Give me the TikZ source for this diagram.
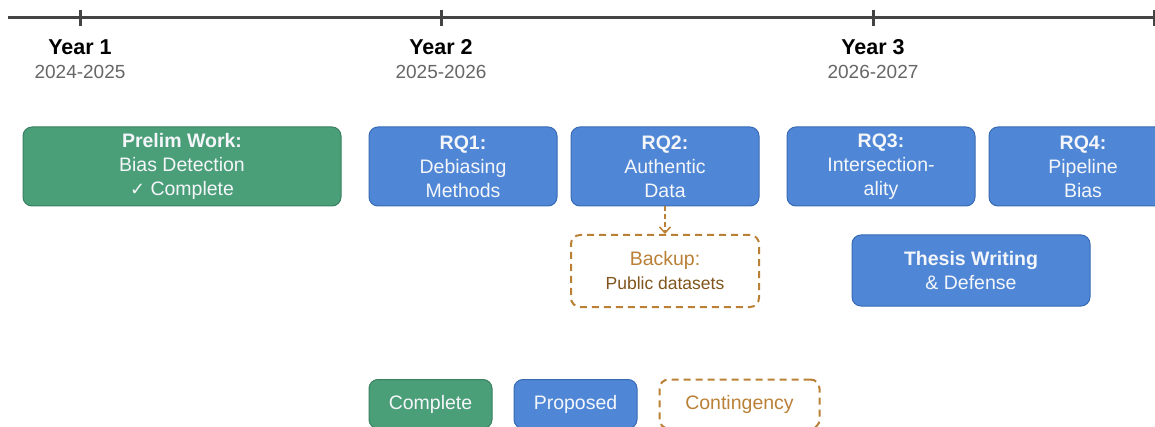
\documentclass[tikz,border=0pt]{standalone}
\usepackage{fontspec}
\setmainfont{Liberation Sans}
\newfontfamily\simbolo{DejaVu Sans}
\usepackage{xcolor}
\usepackage{tikz}
\usetikzlibrary{arrows.meta,positioning}
\definecolor{verdecaixa}{RGB}{74,158,120}
\definecolor{verdeborda}{RGB}{58,128,96}
\definecolor{azulcaixa}{RGB}{79,135,214}
\definecolor{azulborda}{RGB}{56,106,180}
\definecolor{marrom}{RGB}{186,128,54}
\definecolor{marromescuro}{RGB}{128,84,28}
\definecolor{cinzalinha}{RGB}{68,68,68}
\definecolor{cinzatexto}{RGB}{102,102,102}
\definecolor{textoclaro}{RGB}{244,246,250}
\tikzset{
  caixa/.style={rectangle,rounded corners=9pt,line width=1pt,align=center,
    inner sep=0pt,font=\fontsize{19.5}{24}\selectfont},
  feito/.style={caixa,draw=verdeborda,fill=verdecaixa,text=textoclaro},
  proposto/.style={caixa,draw=azulborda,fill=azulcaixa,text=textoclaro},
  reserva/.style={caixa,draw=marrom,line width=2pt,dash pattern=on 7pt off 5pt,
    text=marrom},
  ano/.style={anchor=base,font=\bfseries\fontsize{21.5}{24}\selectfont},
  periodo/.style={anchor=base,text=cinzatexto,font=\fontsize{19}{22}\selectfont},
  marca/.style={line width=3pt,cinzalinha},
  seta/.style={-{Straight Barb[length=6pt,width=11pt]},line width=1.5pt,marrom,
    dash pattern=on 5pt off 3pt}
}

\begin{document}
\begin{tikzpicture}[x=1pt,y=-1pt]
\useasboundingbox (0,0) rectangle (1155,427);
% linha do tempo
\coordinate (ini) at (8,18);
\coordinate (fim) at (1160,18);
\draw[marca] (ini) -- (fim);
\draw[marca] (1154,10) -- (1154,26);
\foreach \x/\n/\p in {80/1/2024-2025,441/2/2025-2026,873/3/2026-2027} {
  \draw[marca] (\x,10) -- (\x,26);
  \node[ano] (ano\n) at (\x,55) {Year \n};
  \node[periodo] (per\n) at (\x,79) {\p};
}
% fases
\node[feito,minimum width=318pt,minimum height=79pt] (prelim) at (182,166.5)
  {\textbf{Prelim Work:}\\Bias Detection\\{\simbolo\fontsize{18}{24}\selectfont ✓} Complete};
\node[proposto,minimum width=188pt,minimum height=79pt] (rq1) at (463,166.5)
  {\textbf{RQ1:}\\Debiasing\\Methods};
\node[proposto,minimum width=188pt,minimum height=79pt] (rq2) at (665,166.5)
  {\textbf{RQ2:}\\Authentic\\Data};
\node[proposto,minimum width=188pt,minimum height=79pt] (rq3) at (881,166.5)
  {\textbf{RQ3:}\\Intersection-\\ality};
\node[proposto,minimum width=188pt,minimum height=79pt] (rq4) at (1083,166.5)
  {\textbf{RQ4:}\\Pipeline\\Bias};
\node[reserva,minimum width=188pt,minimum height=72pt] (backup) at (665,271)
  {Backup:\\{\color{marromescuro}\fontsize{17.5}{24}\selectfont Public datasets}};
\node[proposto,minimum width=238pt,minimum height=71pt] (tese) at (971,270.5)
  {\textbf{Thesis Writing}\\\& Defense};
\draw[seta] (rq2.south) -- (backup.north);
% legenda
\node[feito,minimum width=123pt,minimum height=49pt] (leg1) at (430.5,404) {Complete};
\node[proposto,minimum width=123pt,minimum height=49pt,right=21pt of leg1] (leg2) {Proposed};
\node[reserva,minimum width=160pt,minimum height=49pt,right=21pt of leg2] (leg3) {Contingency};
\end{tikzpicture}
\end{document}
